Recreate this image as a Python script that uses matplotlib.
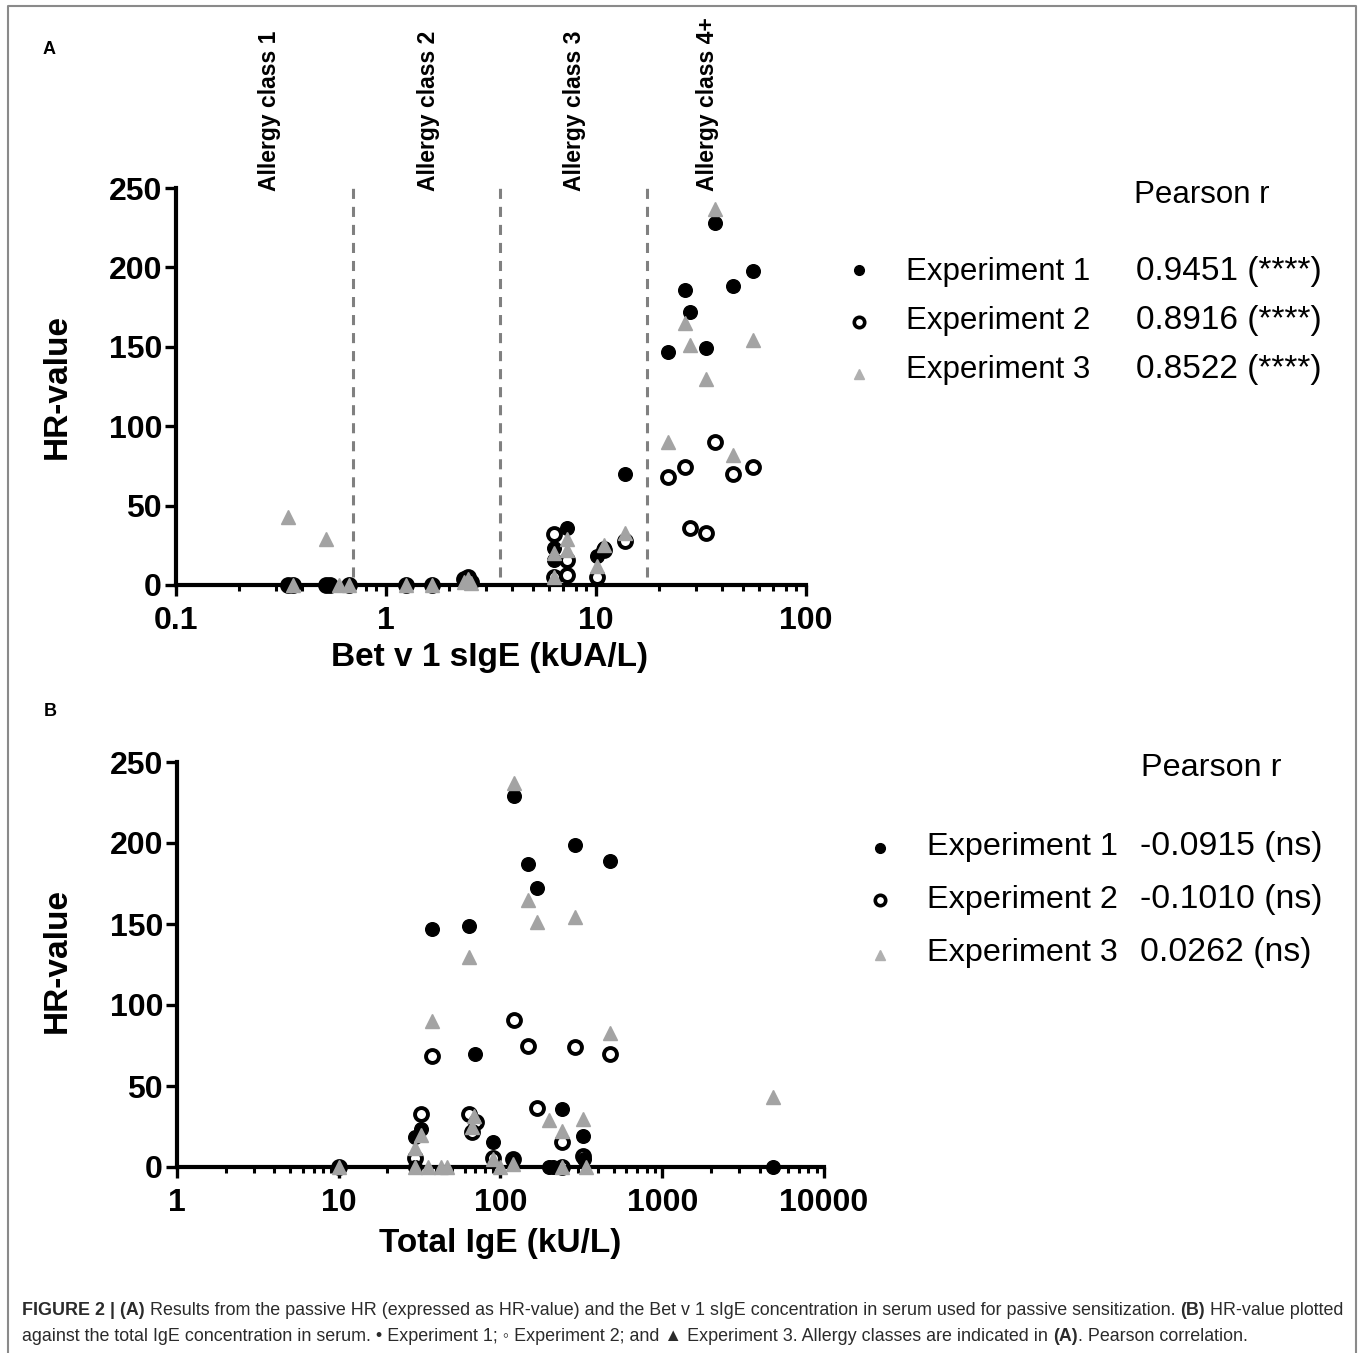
import matplotlib
matplotlib.use("Agg")
import matplotlib.pyplot as plt
from matplotlib.lines import Line2D
from matplotlib.text import Annotation
from matplotlib.ticker import FixedLocator, FixedFormatter, LogLocator, NullFormatter

plt.rcParams['font.family'] = ['Liberation Sans', 'DejaVu Sans']

# panel A: Bet v 1 sIgE (kUA/L) vs HR-value
a_x1 = [0.34, 0.36, 0.52, 0.54, 0.67, 1.25, 1.65, 2.35, 2.45, 2.55, 6.3, 6.3, 7.3, 10.1, 10.9, 13.7,
        22, 26.5, 28, 33.4, 37, 45, 56]
a_y1 = [0, 0, 0, 0, 0, 0, 0, 3, 5, 2, 23, 16, 36, 18, 23, 70,
        147, 186, 172, 149, 228, 188, 198]
a_x2 = [0.34, 0.36, 0.52, 0.54, 0.67, 1.25, 1.65, 2.35, 2.45, 2.55, 6.3, 6.3, 7.3, 7.3, 10.1, 10.9, 13.7,
        22, 26.5, 28, 33.4, 37, 45, 56]
a_y2 = [0, 0, 0, 0, 0, 0, 0, 4, 5, 2, 32, 5, 16, 6, 5, 22, 28,
        68, 74, 36, 33, 90, 70, 74]
a_x3 = [0.34, 0.36, 0.52, 0.6, 0.67, 1.25, 1.65, 2.35, 2.45, 2.55, 6.3, 6.3, 7.3, 7.3, 10.1, 10.9, 13.7,
        22, 26.5, 28, 33.4, 37, 45, 56]
a_y3 = [43, 0, 29, 0, 0, 0, 0, 2, 4, 1, 20, 5, 29, 22, 12, 25, 33,
        90, 165, 151, 130, 237, 82, 154]

class_cuts = [0.7, 3.5, 17.5]
class_names = ["Allergy class 1", "Allergy class 2", "Allergy class 3", "Allergy class 4+"]
class_label_x = [0.28, 1.6, 7.94, 34.1]

# panel B: total IgE (kU/L) vs HR-value
b_x1 = [10, 29.5, 29.5, 32.4, 37.7, 63.7, 70, 90.5, 119, 122, 147.5, 168, 200, 210, 240, 290, 325, 330, 478, 4840]
b_y1 = [0, 0, 18.7, 23.2, 146.7, 149, 69.6, 15.4, 5, 229, 186.9, 172.5, 0, 0, 35.6, 198.6, 19.3, 5, 189, 0]
b_x2 = [10, 29.5, 32.4, 37.7, 63.7, 66.8, 71, 90.5, 119, 122, 147.5, 168, 240, 240, 290, 325, 478]
b_y2 = [0, 5.4, 32.5, 68.7, 32.5, 21.8, 28, 5.4, 5, 90.7, 74.9, 36.2, 15.6, 0, 74, 6.5, 70]
b_x3 = [10, 29.5, 29.5, 32.4, 35.5, 37.7, 43, 47, 63.7, 66.8, 69, 90.5, 98.6, 119, 122, 147.5, 168,
        200, 240, 240, 290, 325, 338, 478, 4840]
b_y3 = [0, 11.5, 0, 19.8, 0, 90.4, 0, 0, 129.5, 25, 31.5, 5, 0, 2, 237, 165, 151,
        29, 22.5, 0, 154.5, 29.4, 0, 82.5, 43]

exp_names = ["Experiment 1", "Experiment 2", "Experiment 3"]
r_a = ["0.9451 (****)", "0.8916 (****)", "0.8522 (****)"]
r_b = ["-0.0915 (ns)", "-0.1010 (ns)", "0.0262 (ns)"]

W, H = 1360, 1353
fig = plt.figure(figsize=(W / 100, H / 100), dpi=100)


def fx(px):
    return px / W


def fy(py):
    return 1 - py / H


GRAY = '#a3a3a3'


def style_axis(ax, xlim, xticks, xlabels):
    ax.set_xscale('log')
    ax.set_xlim(*xlim)
    ax.set_ylim(0, 250)
    for s in ['top', 'right']:
        ax.spines[s].set_visible(False)
    for s in ['left', 'bottom']:
        ax.spines[s].set_linewidth(3)
    ax.xaxis.set_major_locator(FixedLocator(xticks))
    ax.xaxis.set_major_formatter(FixedFormatter(xlabels))
    ax.xaxis.set_minor_locator(LogLocator(base=10, subs=range(2, 10), numticks=20))
    ax.xaxis.set_minor_formatter(NullFormatter())
    ax.set_yticks([0, 50, 100, 150, 200, 250])
    ax.tick_params(axis='both', which='major', direction='out', length=8, width=2.4,
                   labelsize=23)
    ax.tick_params(axis='x', which='major', pad=7)
    ax.tick_params(axis='x', which='minor', direction='out', length=4.5, width=2.2)
    ax.tick_params(axis='y', pad=2)
    for lab in ax.get_xticklabels() + ax.get_yticklabels():
        lab.set_fontweight('bold')


def draw_points(ax, xs, ys):
    ax.plot(xs[0], ys[0], 'o', ms=9.8, color='black', mec='black', ls='none', clip_on=False, zorder=3)
    ax.plot(xs[1], ys[1], 'o', ms=9.3, mfc='none', mec='black', mew=2.8, ls='none', clip_on=False, zorder=4)
    ax.plot(xs[2], ys[2], '^', ms=9.5, color=GRAY, mec=GRAY, ls='none', clip_on=False, zorder=5)


def legend_block(title_xy, mark_x, text_x, val_x, rows_y, marks_y, vals, name_size, val_size):
    fig.text(fx(title_xy[0]), fy(title_xy[1]), "Pearson r", fontsize=name_size, va='baseline')
    styles = [dict(marker='o', ms=7, color='black'),
              dict(marker='o', ms=7.5, mfc='none', mec='black', mew=2.6),
              dict(marker='^', ms=7, color='#b0b0b0')]
    for i in range(3):
        fig.add_artist(Line2D([fx(mark_x)], [fy(marks_y[i])], ls='none', transform=fig.transFigure,
                              **styles[i]))
        fig.text(fx(text_x), fy(rows_y[i]), exp_names[i], fontsize=name_size, va='baseline')
        fig.text(fx(val_x), fy(rows_y[i]), vals[i], fontsize=val_size, va='baseline')


# ---------- panel A ----------
axA = fig.add_axes([fx(176), fy(585), fx(806) - fx(176), fy(188) - fy(585)])
style_axis(axA, (0.1, 100), [0.1, 1, 10, 100], ["0.1", "1", "10", "100"])
axA.vlines(class_cuts, 5, 250, colors='#808080', linestyles=(0, (3.3, 2.6)), lw=2.2, zorder=1)
draw_points(axA, [a_x1, a_x2, a_x3], [a_y1, a_y2, a_y3])
for cx, name in zip(class_label_x, class_names):
    axA.text(cx, 248, name, rotation=90, ha='center', va='bottom', fontsize=16.5,
             fontweight='bold', clip_on=False)
axA.text(0.498, -0.182, "Bet v 1 sIgE (kUA/L)", transform=axA.transAxes, ha='center', va='center',
         fontsize=24, fontweight='bold')
axA.text(-0.189, 0.5, "HR-value", transform=axA.transAxes, ha='center', va='center', rotation=90,
         fontsize=24, fontweight='bold')
fig.text(fx(49), fy(50), "A", fontsize=13, fontweight='bold', ha='center', va='center')
legend_block((1134, 203), 859, 906, 1136, [280, 329, 378], [270, 322, 374], r_a, 22.5, 24)

# ---------- panel B ----------
axB = fig.add_axes([fx(177), fy(1167), fx(824) - fx(177), fy(762) - fy(1167)])
style_axis(axB, (1, 10000), [1, 10, 100, 1000, 10000], ["1", "10", "100", "1000", "10000"])
draw_points(axB, [b_x1, b_x2, b_x3], [b_y1, b_y2, b_y3])
axB.text(0.499, -0.19, "Total IgE (kU/L)", transform=axB.transAxes, ha='center', va='center',
         fontsize=24, fontweight='bold')
axB.text(-0.1855, 0.51, "HR-value", transform=axB.transAxes, ha='center', va='center', rotation=90,
         fontsize=24, fontweight='bold')
fig.text(fx(50), fy(712), "B", fontsize=13, fontweight='bold', ha='center', va='center')
legend_block((1141, 776), 880, 927, 1140, [855, 908, 961], [848, 900, 955], r_b, 23.3, 24.3)

# ---------- caption ----------
CAP = '#2b2b2b'
CAPSIZE = 12.85


def caption_line(x, y, parts):
    t = fig.text(fx(x), fy(y), parts[0][0], fontsize=CAPSIZE, color=CAP, va='baseline',
                 fontweight='bold' if parts[0][1] else 'normal')
    for s, bold in parts[1:]:
        gap = 3.6 if s.startswith(' ') else 0
        t = Annotation(s.lstrip(' '), xy=(1, 0), xycoords=t, xytext=(gap, 0), textcoords='offset points',
                       fontsize=CAPSIZE, color=CAP, va='bottom', ha='left',
                       fontweight='bold' if bold else 'normal')
        fig.add_artist(t)


caption_line(22, 1315, [
    ("FIGURE 2 | (A)", True),
    (" Results from the passive HR (expressed as HR-value) and the Bet v 1 sIgE concentration in serum "
     "used for passive sensitization.", False),
    (" (B)", True),
    (" HR-value plotted", False)])
caption_line(22, 1341, [
    ("against the total IgE concentration in serum. \u2022 Experiment 1; \u25e6 Experiment 2; and "
     "\u25b2 Experiment 3. Allergy classes are indicated in", False),
    (" (A)", True),
    (". Pearson correlation.", False)])

# figure frame
fig.add_artist(Line2D([fx(8), fx(8), fx(1356), fx(1356)], [0, fy(6), fy(6), 0],
                      transform=fig.transFigure, color='#8a8a8a', lw=1.5))

fig.savefig("out.png", dpi=100)
